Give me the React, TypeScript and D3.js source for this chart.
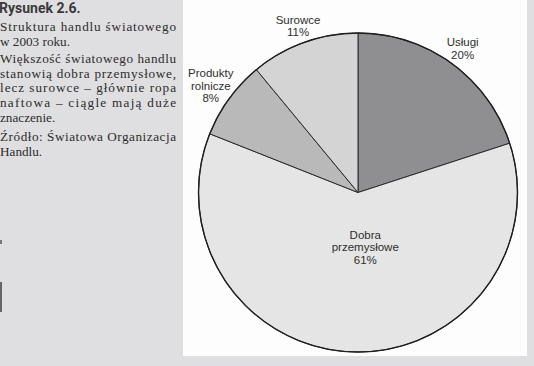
import React, { useRef, useEffect } from 'react';
import { select, pie, arc } from 'd3';

const categories = ['Usługi', 'Dobra przemysłowe', 'Produkty rolnicze', 'Surowce'];
const shares = [20, 61, 8, 11];
const labelLines = [['Usługi', '20%'], ['Dobra', 'przemysłowe', '61%'], ['Produkty', 'rolnicze', '8%'], ['Surowce', '11%']];

const sliceColors = ['#8f8f91', '#e5e5e5', '#b9b9b9', '#d4d4d4'];
// label distance from the centre for each slice, plus a small nudge
const labelRadius = [178, 55, 182, 177];
const labelNudge = [[0, 0], [9, 0], [0, 0], [0, 0]];

const captionTitle = 'Rysunek 2.6.';
const captionLines = [
    { text: 'Struktura handlu światowego', justify: true, gap: 0 },
    { text: 'w 2003 roku.', justify: false, gap: 0 },
    { text: 'Większość światowego handlu', justify: true, gap: 3 },
    { text: 'stanowią dobra przemysłowe,', justify: true, gap: 0 },
    { text: 'lecz surowce – głównie ropa', justify: true, gap: 0 },
    { text: 'naftowa – ciągle mają duże', justify: true, gap: 0 },
    { text: 'znaczenie.', justify: false, gap: 0 },
    { text: 'Źródło: Światowa Organizacja', justify: true, gap: 5 },
    { text: 'Handlu.', justify: false, gap: 0 },
];

const width = 534;
const height = 366;
const cx = 358;
const cy = 192.5;
const radius = 159.5;

const PieChart = () => {
    const d3svg = useRef(null);

    useEffect(() => {
        const svg = select(d3svg.current);
        svg.selectAll('*').remove();

        svg.append('rect').attr('width', width).attr('height', height).attr('fill', '#dfdfe1');
        // white panel behind the chart
        svg.append('rect')
            .attr('x', 183).attr('y', 0).attr('width', 344).attr('height', 356)
            .attr('fill', '#fdfdfd');

        // scan marks on the left edge
        svg.append('rect').attr('x', 0).attr('y', 240).attr('width', 2).attr('height', 4).attr('fill', '#777');
        svg.append('rect').attr('x', 0).attr('y', 282).attr('width', 2).attr('height', 30).attr('fill', '#666');

        // caption
        svg.append('text')
            .attr('x', -1).attr('y', 13)
            .style('font-family', 'Roboto, "Liberation Sans", sans-serif')
            .style('font-weight', 'bold')
            .style('font-size', '14px')
            .attr('fill', '#3a3a3a')
            .text(captionTitle);

        let y = 31;
        captionLines.forEach((d) => {
            y += d.gap;
            const t = svg.append('text')
                .attr('x', 0).attr('y', y)
                .style('font-family', '"Liberation Serif", serif')
                .style('font-size', '13.2px')
                .attr('fill', '#2b2b2b')
                .text(d.text);
            if (d.justify) t.attr('textLength', 176).attr('lengthAdjust', 'spacing');
            y += 14.6;
        });

        const g = svg.append('g').attr('transform', `translate(${cx}, ${cy})`);

        const chartPie = pie().value((d) => d).sort(null);
        const arcs = chartPie(shares);
        const chartArc = arc().innerRadius(0).outerRadius(radius);

        g.selectAll('path.slice')
            .data(arcs)
            .join('path')
            .attr('class', 'slice')
            .attr('d', chartArc)
            .attr('fill', (d, i) => sliceColors[i])
            .attr('stroke', '#2a2a2a')
            .attr('stroke-width', 1)
            .attr('stroke-linejoin', 'round');

        g.append('circle').attr('r', radius).attr('fill', 'none').attr('stroke', '#1e1e1e').attr('stroke-width', 1.4);

        arcs.forEach((d, i) => {
            const r = labelRadius[i];
            const [lx, ly] = arc().innerRadius(r).outerRadius(r).centroid(d);
            const lines = labelLines[i];
            const lh = 12.8;
            const top = ly - ((lines.length - 1) * lh) / 2 + 4;
            const t = g.append('text')
                .attr('text-anchor', 'middle')
                .style('font-family', '"Liberation Sans", Arial, sans-serif')
                .style('font-size', '11.5px')
                .attr('fill', '#2e2e2e')
                .attr('aria-label', categories[i]);
            lines.forEach((line, j) => {
                t.append('tspan')
                    .attr('x', lx + labelNudge[i][0])
                    .attr('y', top + j * lh + labelNudge[i][1])
                    .text(line);
            });
        });
    }, []);

    return (
        <svg
            width={width}
            height={height}
            ref={d3svg}
            style={{ position: 'fixed', left: 0, top: 0, display: 'block' }}
        ></svg>
    );
};

export default function App() {
    return <PieChart />;
}
